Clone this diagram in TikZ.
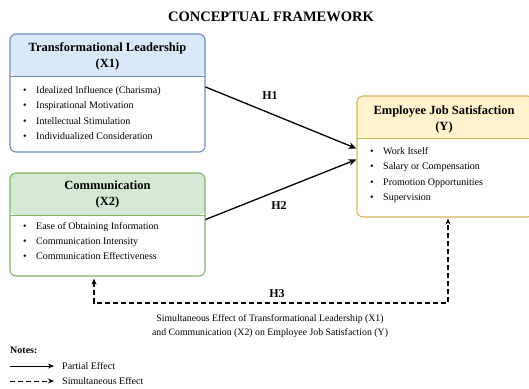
\documentclass[tikz,border=0pt]{standalone}
\usepackage{fontspec}
\setmainfont{Liberation Serif}
\usetikzlibrary{arrows.meta,positioning}
\definecolor{tlfill}{HTML}{DAE8FC}
\definecolor{tlline}{HTML}{6C8EBF}
\definecolor{cmfill}{HTML}{D5E8D4}
\definecolor{cmline}{HTML}{82B366}
\definecolor{jsfill}{HTML}{FFF2CC}
\definecolor{jsline}{HTML}{D6B656}
\newcommand{\fwitem}[1]{\makebox[13pt][l]{\textbullet}#1}

\begin{document}
\begin{tikzpicture}[x=1pt,y=-1pt,
  fwbox/.style 2 args={draw=#1,line width=1.1pt,rounded corners=6pt,fill=white,inner sep=0pt,
    path picture={\fill[#2] (path picture bounding box.north west) rectangle
      ([yshift=-42pt]path picture bounding box.north east);
      \draw[#1,line width=1pt] ([yshift=-42pt]path picture bounding box.north west) --
      ([yshift=-42pt]path picture bounding box.north east);}},
  boxhead/.style={align=center,font=\fontsize{12.5}{16}\selectfont\bfseries},
  itemlist/.style={anchor=west,align=left,inner sep=0pt,font=\fontsize{10}{15.3}\selectfont},
  hlabel/.style={font=\fontsize{12}{14}\selectfont\bfseries},
  partial/.style={-{Stealth[length=8pt,width=6.5pt]},line width=1.3pt},
  simult/.style={{Stealth[length=6pt,width=5pt]}-{Stealth[length=6pt,width=5pt]},
    line width=1.3pt,dash pattern=on 5pt off 3pt}]
  \clip (0,0) rectangle (529,388);
  % title
  \node[font=\fontsize{14.5}{16}\selectfont\bfseries] (title) at (271,17) {CONCEPTUAL FRAMEWORK};

  % boxes
  \node[fwbox={tlline}{tlfill},minimum width=195pt,minimum height=118pt] (tl) at (107.5,93) {};
  \node[fwbox={cmline}{cmfill},minimum width=195pt,minimum height=103pt] (comm) at (107.5,224.5) {};
  \node[fwbox={jsline}{jsfill},minimum width=176pt,minimum height=121pt] (jobsat) at (445,156.5) {};

  \node[boxhead] (tlhead) at (107.5,56) {Transformational Leadership\\(X1)};
  \node[boxhead] (commhead) at (107.5,194) {Communication\\(X2)};
  \node[boxhead] (jobsathead) at (444,119) {Employee Job Satisfaction\\(Y)};

  \node[itemlist] (tllist) at (23,113) {\fwitem{Idealized Influence (Charisma)}\\
    \fwitem{Inspirational Motivation}\\\fwitem{Intellectual Stimulation}\\
    \fwitem{Individualized Consideration}};
  \node[itemlist] (commlist) at (23,241) {\fwitem{Ease of Obtaining Information}\\
    \fwitem{Communication Intensity}\\\fwitem{Communication Effectiveness}};
  \node[itemlist] (jobsatlist) at (370,175) {\fwitem{Work Itself}\\
    \fwitem{Salary or Compensation}\\\fwitem{Promotion Opportunities}\\\fwitem{Supervision}};

  % partial effects
  \draw[partial] ([yshift=6pt]tl.east) -- ([yshift=8pt]jobsat.west);
  \draw[partial] ([yshift=5pt]comm.east) -- ([yshift=-3pt]jobsat.west);
  \node[hlabel] (h1) at (270,96) {H1};
  \node[hlabel] (h2) at (279,206) {H2};

  % simultaneous effect
  \coordinate (h3l) at (94,303);
  \coordinate (h3r) at (448,303);
  \draw[simult] ([yshift=-2pt]comm.south -| h3l) -- (h3l) -- (h3r) -- ([yshift=-1pt]jobsat.south -| h3r);
  \node[hlabel] (h3) at (277,294) {H3};
  \node[align=center,font=\fontsize{9.8}{14}\selectfont] (caption) at (270,326)
    {Simultaneous Effect of Transformational Leadership (X1)\\
     and Communication (X2) on Employee Job Satisfaction (Y)};

  % notes
  \node[anchor=west,inner sep=0pt,font=\fontsize{10}{12}\selectfont\bfseries] (notes) at (10,350) {Notes:};
  \coordinate (pa) at (10,366);
  \coordinate (pb) at (54,366);
  \coordinate (sa) at (10,381);
  \coordinate (sb) at (54,381);
  \draw[-{Stealth[length=6pt,width=5pt]},line width=1pt] (pa) -- (pb);
  \draw[-{Stealth[length=6pt,width=5pt]},line width=1pt,dash pattern=on 5pt off 3pt] (sa) -- (sb);
  \node[anchor=west,inner sep=0pt,font=\fontsize{10}{12}\selectfont] (partlab) at (62,366) {Partial Effect};
  \node[anchor=west,inner sep=0pt,font=\fontsize{10}{12}\selectfont] (simlab) at (62,381) {Simultaneous Effect};
\end{tikzpicture}
\end{document}
